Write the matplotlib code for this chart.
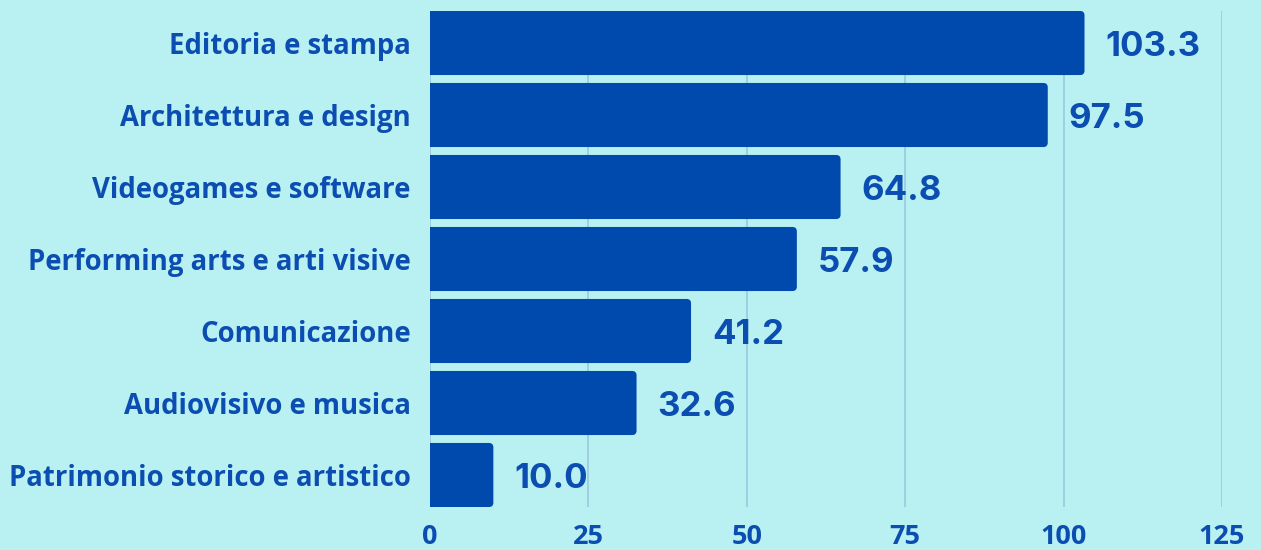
import matplotlib
matplotlib.use("Agg")
import matplotlib.pyplot as plt
from matplotlib.patches import FancyBboxPatch

# settori e valori (dati del grafico)
settori = ["Editoria e stampa", "Architettura e design", "Videogames e software",
           "Performing arts e arti visive", "Comunicazione", "Audiovisivo e musica",
           "Patrimonio storico e artistico"]
valori = [103.3, 97.5, 64.8, 57.9, 41.2, 32.6, 10.0]
etichette = ["103.3", "97.5", "64.8", "57.9", "41.2", "32.6", "10.0"]
xticks = [0, 25, 50, 75, 100, 125]

sfondo = "#b9f1f2"
blu = "#004aad"
testo = "#0b4db0"
griglia = "#9cc9e2"

fig = plt.figure(figsize=(12.61, 5.5), dpi=100, facecolor=sfondo)
ax = fig.add_axes([430 / 1261, (550 - 507.4) / 550, 792 / 1261, 496.8 / 550])
ax.set_facecolor(sfondo)

pos = list(range(len(settori)))
bars = ax.barh(pos, valori, height=0.89, color=blu, zorder=3)

# barre con angoli leggermente arrotondati
for b in bars:
    x, y = b.get_x(), b.get_y()
    w, h = b.get_width(), b.get_height()
    b.set_visible(False)
    p = FancyBboxPatch((x - 1, y), w + 1, h,
                       boxstyle="round,pad=0,rounding_size=0.7",
                       mutation_aspect=0.088, facecolor=blu,
                       edgecolor="none", zorder=3)
    ax.add_patch(p)

for v, p, t in zip(valori, pos, etichette):
    ax.annotate(t, (v, p), xytext=(15, -3), textcoords="offset points",
                ha="left", va="center", fontsize=25, fontweight="bold",
                family=["Inter", "DejaVu Sans"], color=testo, zorder=4)

ax.set_xlim(0, 125)
ax.set_ylim(6.45, -0.45)
ax.set_xticks(xticks)
ax.set_yticks(pos)
ax.set_yticklabels(settori)
ax.grid(axis="x", color=griglia, linewidth=1.2, zorder=0)
ax.grid(axis="y", visible=False)
for s in ax.spines.values():
    s.set_visible(False)

ax.tick_params(axis="y", length=0, pad=14, labelsize=19.8, labelcolor=testo)
ax.tick_params(axis="x", length=0, pad=12, labelsize=19.5, labelcolor=testo)
for lab in ax.get_yticklabels():
    lab.set_fontweight("bold")
    lab.set_family("Open Sans")
for lab in ax.get_xticklabels():
    lab.set_fontweight("bold")
    lab.set_family("Open Sans")

fig.savefig("out.png", dpi=100, facecolor=sfondo)
